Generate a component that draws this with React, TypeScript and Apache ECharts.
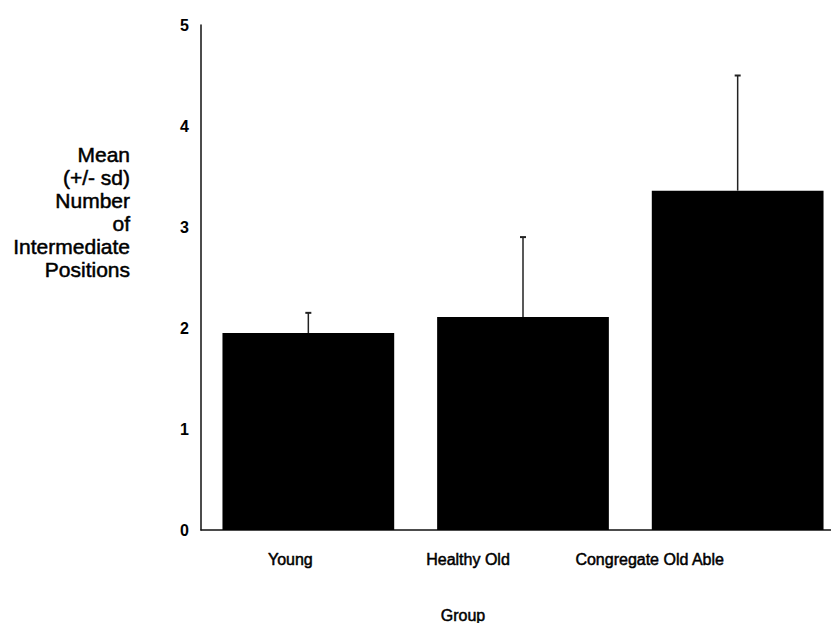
import React, { useEffect, useRef } from "react";
import * as echarts from "echarts";

const categories = ["Young", "Healthy Old", "Congregate Old Able"];
const means = [1.95, 2.11, 3.36];
const sds = [0.2, 0.79, 1.14];
const yTicks = [0, 1, 2, 3, 4, 5];
const yAxisTitle = ["Mean", "(+/- sd)", "Number", "of", "Intermediate", "Positions"];
const xAxisTitle = "Group";
// left shift (px) of each category label relative to its bar centre
const labelShift = [18, 55, 88];

const FONT = "Liberation Sans, Arial, sans-serif";

export default function App() {
  const ref = useRef<HTMLDivElement>(null);
  useEffect(() => {
    if (!ref.current) return;
    const chart = echarts.init(ref.current, undefined, { renderer: "svg" });
    const rich: Record<string, any> = {};
    labelShift.forEach((s, i) => {
      rich["l" + i] = {
        fontFamily: FONT,
        fontSize: 16,
        color: "#000",
        textBorderColor: "#000",
        textBorderWidth: 0.5,
        padding: [0, s * 2, 0, 0],
      };
    });
    chart.setOption({
      animation: false,
      backgroundColor: "#fff",
      grid: { left: 201, right: 0, top: 25, bottom: 93, containLabel: false },
      xAxis: {
        type: "category",
        data: categories,
        axisLine: { lineStyle: { color: "#111", width: 1.5 } },
        axisTick: { show: false },
        axisLabel: {
          interval: 0,
          margin: 21,
          formatter: (v: string) => {
            const i = categories.indexOf(v);
            return "{l" + i + "|" + v + "}";
          },
          rich,
        },
      },
      yAxis: {
        type: "value",
        min: yTicks[0],
        max: yTicks[yTicks.length - 1],
        interval: 1,
        splitLine: { show: false },
        axisLine: { show: true, lineStyle: { color: "#111", width: 1.5 } },
        axisTick: { show: false },
        axisLabel: {
          margin: 12,
          fontFamily: FONT,
          fontSize: 16,
          fontWeight: "bold",
          color: "#000",
        },
      },
      graphic: [
        {
          type: "text",
          x: 130,
          y: 212,
          style: {
            text: yAxisTitle.join("\n"),
            textAlign: "right",
            textVerticalAlign: "middle",
            fontFamily: FONT,
            fontSize: 21,
            lineHeight: 23,
            fill: "#000",
            stroke: "#000",
            lineWidth: 0.5,
          },
        },
        {
          type: "text",
          x: 463,
          y: 615,
          style: {
            text: xAxisTitle,
            textAlign: "center",
            textVerticalAlign: "middle",
            fontFamily: FONT,
            fontSize: 16,
            fill: "#000",
            stroke: "#000",
            lineWidth: 0.5,
          },
        },
      ],
      series: [
        {
          type: "bar",
          data: means,
          barCategoryGap: "20%",
          itemStyle: { color: "#000" },
          z: 2,
        },
        {
          type: "custom",
          data: categories.map((_, i) => [i, means[i], sds[i]]),
          z: 3,
          renderItem: (params: any, api: any) => {
            const i = api.value(0);
            const m = api.value(1);
            const s = api.value(2);
            const base = api.coord([i, m]);
            const top = api.coord([i, m + s]);
            const half = 3;
            return {
              type: "group",
              children: [
                {
                  type: "line",
                  shape: { x1: base[0], y1: base[1], x2: top[0], y2: top[1] },
                  style: { stroke: "#222", lineWidth: 1.5 },
                },
                {
                  type: "line",
                  shape: { x1: top[0] - half, y1: top[1], x2: top[0] + half, y2: top[1] },
                  style: { stroke: "#222", lineWidth: 2 },
                },
              ],
            };
          },
        },
      ],
    });
    return () => chart.dispose();
  }, []);
  return (
    <div style={{ position: "absolute", left: 0, top: 0, width: 831, height: 623, overflow: "hidden" }}>
      <div ref={ref} style={{ width: 845, height: 623 }} />
    </div>
  );
}
